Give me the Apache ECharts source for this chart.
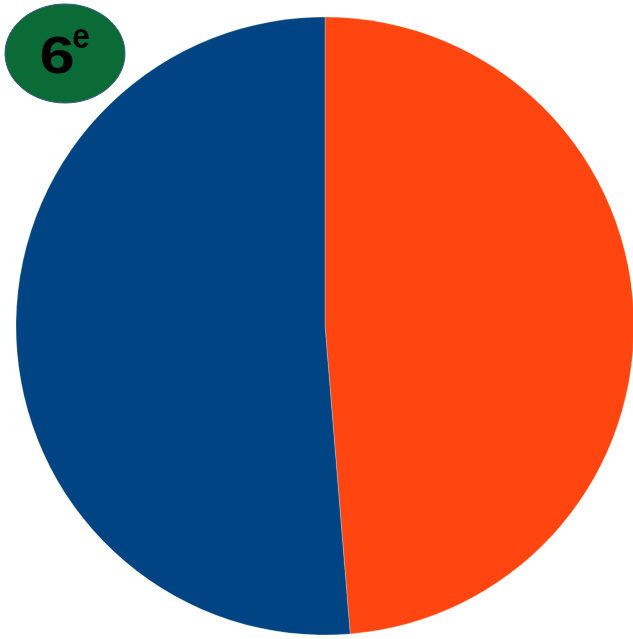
<!DOCTYPE html>
<html><head><meta charset="utf-8">
<script src="https://cdn.jsdelivr.net/npm/echarts@6/dist/echarts.min.js"></script>
<style>html,body{margin:0;padding:0;background:#fff}#c{width:633px;height:639px}</style>
</head><body><div id="c"></div>
<script>
const categories = ['A', 'B'];
const values = [48.7, 51.3];
const colors = ['#FF4611', '#004483'];
const badgeMain = '6';
const badgeSup = 'e';

const chart = echarts.init(document.getElementById('c'), null, {renderer: 'canvas'});
chart.setOption({
  animation: false,
  backgroundColor: '#fff',
  series: [{
    type: 'pie',
    center: [325, 326],
    radius: [0, 309],
    startAngle: 90,
    clockwise: true,
    label: {show: false},
    labelLine: {show: false},
    itemStyle: {borderWidth: 0.5, borderColor: 'rgba(255,255,255,0.5)'},
    data: categories.map((c, i) => ({name: c, value: values[i], itemStyle: {color: colors[i]}}))
  }],
  graphic: [
    {type: 'ellipse', shape: {cx: 65, cy: 53.5, rx: 60, ry: 49.5},
     style: {fill: '#0B6B36', stroke: '#3a5a8a', lineWidth: 1}, z: 10},
    {type: 'text', x: 57.2, y: 58.5, scaleX: 1.22, z: 11,
     style: {text: badgeMain, x: 0, y: 0, align: 'center', verticalAlign: 'middle',
             font: 'bold 52px "Liberation Sans", Arial, sans-serif', fill: '#000'}},
    {type: 'text', x: 81, y: 38.5, scaleX: 0.9, z: 11,
     style: {text: badgeSup, x: 0, y: 0, align: 'center', verticalAlign: 'middle',
             font: 'bold 35px "Liberation Sans", Arial, sans-serif', fill: '#000'}}
  ]
});
</script></body></html>
